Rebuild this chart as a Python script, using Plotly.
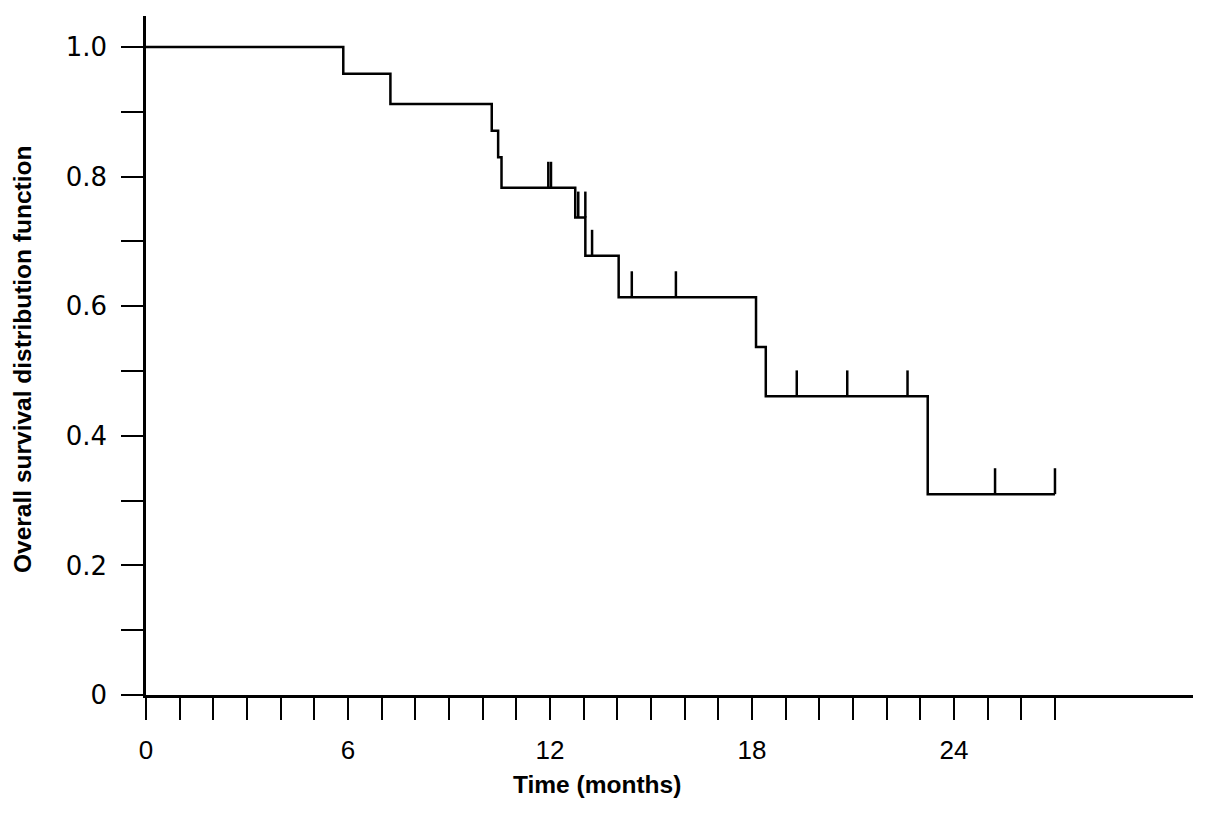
import plotly.graph_objects as go
import bisect

# Kaplan-Meier data
event_times = [5.86, 7.26, 10.27, 10.46, 10.56, 12.75, 13.05, 14.04, 18.12, 18.41, 23.22]
event_surv = [0.959, 0.912, 0.871, 0.830, 0.783, 0.737, 0.678, 0.614, 0.537, 0.461, 0.310]
censor_times = [11.95, 12.03, 12.84, 13.05, 13.25, 14.43, 15.74, 19.33, 20.83, 22.62, 25.22, 27.0]

x_tick_vals = list(range(0, 28))
x_tick_labels = ["0", "6", "12", "18", "24"]
y_tick_vals = [0, 0.1, 0.2, 0.3, 0.4, 0.5, 0.6, 0.7, 0.8, 0.9, 1.0]
y_tick_labels = ["0", "", "0.2", "", "0.4", "", "0.6", "", "0.8", "", "1.0"]

x_title = "Time (months)"
y_title = "Overall survival distribution function"

CENSOR_H = 0.04  # censor tick height (style)

# step curve
end_t = censor_times[-1]
sx = [0] + event_times + [end_t]
sy = [1.0] + event_surv + [event_surv[-1]]

# censor ticks: level = survival just before time t
cx, cy = [], []
for t in censor_times:
    i = bisect.bisect_left(event_times, t)
    lvl = 1.0 if i == 0 else event_surv[i - 1]
    cx += [t, t, None]
    cy += [lvl, lvl + CENSOR_H, None]

fig = go.Figure()
fig.add_trace(go.Scatter(x=sx, y=sy, mode="lines", line=dict(shape="hv", color="black", width=2.5),
                         hoverinfo="skip", showlegend=False))
fig.add_trace(go.Scatter(x=cx, y=cy, mode="lines", line=dict(color="black", width=2.5),
                         hoverinfo="skip", showlegend=False))

xt_text = [str(v) if str(v) in x_tick_labels else "" for v in x_tick_vals]

title_font = dict(family="Liberation Sans", size=24.5, color="black", weight="bold")

fig.update_layout(
    width=1197, height=807,
    margin=dict(l=138, r=12, t=8, b=120),
    paper_bgcolor="white", plot_bgcolor="white",
    xaxis=dict(
        range=[0, 31.1], showgrid=False, zeroline=False,
        showline=True, linecolor="black", linewidth=2.5,
        tickmode="array", tickvals=x_tick_vals, ticktext=xt_text,
        ticks="outside", ticklen=22, tickwidth=2, tickcolor="black",
        ticklabelstandoff=8,
        tickfont=dict(family="Liberation Sans", size=26, color="black"),
    ),
    yaxis=dict(
        range=[0, 1.048], showgrid=False, zeroline=False,
        showline=True, linecolor="black", linewidth=2.5,
        tickmode="array", tickvals=y_tick_vals, ticktext=y_tick_labels,
        ticks="outside", ticklen=22, tickwidth=2, tickcolor="black",
        ticklabelstandoff=9,
        tickfont=dict(family="DejaVu Sans", size=26, color="black"),
    ),
    annotations=[
        dict(text=x_title, xref="x", x=13.4, yref="paper", y=0, yanchor="middle",
             xanchor="center", yshift=-89, showarrow=False, font=title_font),
        dict(text=y_title, xref="paper", x=0, xanchor="center", xshift=-124,
             yref="paper", y=0, yanchor="middle", yshift=335, textangle=-90,
             showarrow=False, font=title_font),
    ],
)

fig.write_html("out.html")
